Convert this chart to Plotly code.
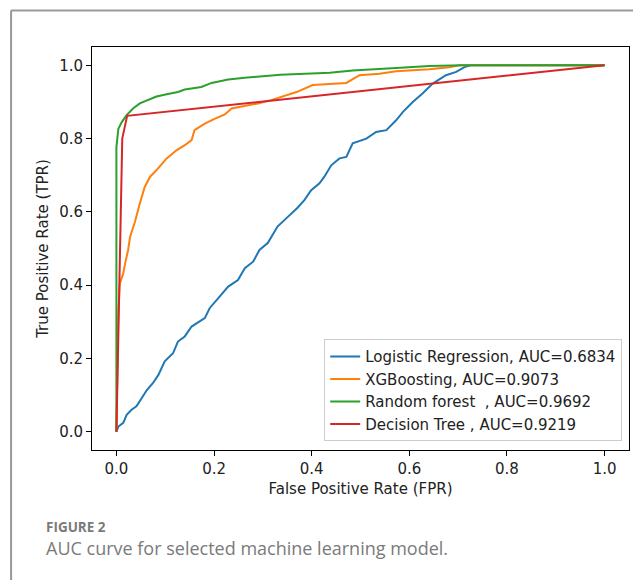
import plotly.graph_objects as go

# ---- data ----
lr_fpr = [0, 0.004, 0.014, 0.021, 0.031, 0.041, 0.052, 0.062, 0.075, 0.086, 0.099, 0.116, 0.126, 0.14, 0.154,
          0.181, 0.191, 0.208, 0.229, 0.249, 0.263, 0.28, 0.293, 0.31, 0.33, 0.35, 0.37, 0.385, 0.399, 0.416,
          0.426, 0.44, 0.457, 0.471, 0.484, 0.512, 0.532, 0.553, 0.573, 0.587, 0.607, 0.627, 0.648, 0.675,
          0.696, 0.713, 0.726, 1.0]
lr_tpr = [0, 0.014, 0.024, 0.046, 0.06, 0.069, 0.092, 0.113, 0.133, 0.155, 0.192, 0.214, 0.246, 0.26, 0.287,
          0.31, 0.337, 0.364, 0.396, 0.414, 0.446, 0.464, 0.496, 0.515, 0.56, 0.585, 0.61, 0.632, 0.659, 0.678,
          0.696, 0.727, 0.746, 0.75, 0.787, 0.80, 0.818, 0.823, 0.85, 0.873, 0.90, 0.923, 0.95, 0.973,
          0.982, 0.995, 1.0, 1.0]

xgb_fpr = [0, 0.002, 0.004, 0.007, 0.014, 0.018, 0.024, 0.028, 0.038, 0.048, 0.058, 0.069, 0.085, 0.103,
           0.123, 0.14, 0.154, 0.16, 0.181, 0.201, 0.222, 0.236, 0.263, 0.29, 0.317, 0.345, 0.369, 0.402,
           0.471, 0.498, 0.539, 0.573, 0.641, 0.682, 0.702, 1.0]
xgb_tpr = [0, 0.2, 0.33, 0.405, 0.432, 0.46, 0.496, 0.532, 0.573, 0.623, 0.668, 0.696, 0.718, 0.746,
           0.768, 0.782, 0.796, 0.823, 0.841, 0.854, 0.866, 0.882, 0.888, 0.896, 0.905, 0.918, 0.927, 0.946,
           0.952, 0.973, 0.977, 0.984, 0.989, 0.995, 1.0, 1.0]

rf_fpr = [0, 0, 0.004, 0.011, 0.021, 0.034, 0.048, 0.065, 0.082, 0.103, 0.126, 0.14, 0.174, 0.195, 0.229,
          0.263, 0.297, 0.336, 0.437, 0.484, 0.573, 0.641, 0.709, 1.0]
rf_tpr = [0, 0.777, 0.827, 0.845, 0.864, 0.882, 0.896, 0.906, 0.915, 0.921, 0.927, 0.934, 0.941, 0.952, 0.961,
          0.966, 0.97, 0.974, 0.98, 0.986, 0.993, 0.998, 1.0, 1.0]

dt_fpr = [0, 0.012, 0.022, 1.0]
dt_tpr = [0, 0.80, 0.862, 1.0]

series_names = ["Logistic Regression, AUC=0.6834", "XGBoosting, AUC=0.9073",
                "Random forest \u00a0, AUC=0.9692", "Decision Tree , AUC=0.9219"]
series_colors = ["#1f77b4", "#ff7f0e", "#2ca02c", "#d62728"]
tick_vals = [0.0, 0.2, 0.4, 0.6, 0.8, 1.0]
tick_text = ["0.0", "0.2", "0.4", "0.6", "0.8", "1.0"]

FONT = "DejaVu Sans"
FS = 15

fig = go.Figure()
for i, (xs, ys) in enumerate([(lr_fpr, lr_tpr), (xgb_fpr, xgb_tpr), (rf_fpr, rf_tpr), (dt_fpr, dt_tpr)]):
    fig.add_trace(go.Scatter(x=xs, y=ys, mode="lines", name=series_names[i], legendgroup=str(i),
                             line=dict(color=series_colors[i], width=2)))

# The page body has an 8px margin; work in page pixels and shift.
OFF = 8
W, H = 641 - OFF, 580 - OFF
PL, PR, PT, PB = 92, 629.5, 46.6, 450.4          # plot area in page pixels
L, R, T, B = PL - OFF, W - (PR - OFF), PT - OFF, H - (PB - OFF)
pw, ph = W - L - R, H - T - B

def px2paper(x, y):
    return (x - OFF - L) / pw, (H - B - (y - OFF)) / ph

axis_common = dict(showgrid=False, zeroline=False, showline=True, linecolor="black", linewidth=1,
                   mirror=True, ticks="outside", ticklen=5, tickwidth=1, tickcolor="black",
                   tickvals=tick_vals, ticktext=tick_text,
                   tickfont=dict(family=FONT, size=FS, color="#222"))
fig.update_xaxes(range=[-0.05, 1.05],
                 title=dict(text="False Positive Rate (FPR)", font=dict(family=FONT, size=FS, color="#222"),
                            standoff=6), **axis_common)
fig.update_yaxes(range=[-0.05, 1.05],
                 title=dict(text="True Positive Rate (TPR)", font=dict(family=FONT, size=FS, color="#222"),
                            standoff=6), **axis_common)

lx, ly = px2paper(622.7, 441.7)
fig.update_layout(
    width=W, height=H,
    margin=dict(l=L, r=R, t=T, b=B, autoexpand=False),
    paper_bgcolor="white", plot_bgcolor="white",
    font=dict(family=FONT, size=FS, color="#222"),
    legend=dict(x=lx, y=ly, xanchor="right", yanchor="bottom", bgcolor="rgba(255,255,255,0.8)",
                bordercolor="#cccccc", borderwidth=1, tracegroupgap=0,
                font=dict(family=FONT, size=FS, color="#222")),
    showlegend=True,
)

# card border (top and left)
x0, y0 = px2paper(11, 10)
x1, _ = px2paper(660, 10)
_, y1 = px2paper(11, 600)
fig.add_shape(type="line", xref="paper", yref="paper", x0=x0, y0=y0, x1=x1, y1=y0,
              line=dict(color="#999999", width=2))
fig.add_shape(type="line", xref="paper", yref="paper", x0=x0, y0=y0, x1=x0, y1=y1,
              line=dict(color="#999999", width=2))

# caption
cx, cy = px2paper(44, 528)
fig.add_annotation(xref="paper", yref="paper", x=cx, y=cy, xanchor="left", yanchor="middle",
                   text="<b>FIGURE 2</b>", showarrow=False,
                   font=dict(family="Open Sans", size=13.5, color="#7a7a7a"))
cx, cy = px2paper(44, 549)
fig.add_annotation(xref="paper", yref="paper", x=cx, y=cy, xanchor="left", yanchor="middle",
                   text="AUC curve for selected machine learning model.", showarrow=False,
                   font=dict(family="Open Sans", size=18, color="#7a7a7a"))

fig.write_html("out.html")
